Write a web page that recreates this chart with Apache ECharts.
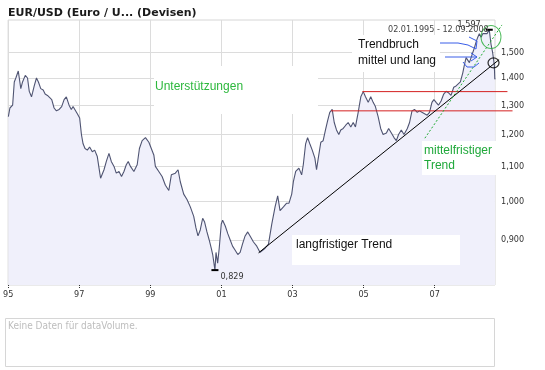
<!DOCTYPE html>
<html><head><meta charset="utf-8">
<script src="https://cdn.jsdelivr.net/npm/echarts@6/dist/echarts.min.js"></script>
<style>html,body{margin:0;padding:0;background:#fff}#c{width:545px;height:370px}</style>
</head><body><div id="c"></div>
<script>
// ---- data ----
const dates = [
'1995-01-03','1995-01-19','1995-02-16','1995-03-05','1995-03-21','1995-04-15','1995-04-25','1995-05-11','1995-05-29','1995-06-26',
'1995-07-19','1995-08-06','1995-08-29','1995-09-09','1995-09-26','1995-10-19','1995-11-08','1995-12-02','1995-12-27','1996-01-16',
'1996-02-09','1996-02-26','1996-03-24','1996-04-17','1996-05-11','1996-06-08','1996-07-04','1996-07-29','1996-08-21','1996-09-18',
'1996-10-11','1996-10-29','1996-11-18','1996-12-12','1997-01-05','1997-01-23','1997-02-09','1997-03-01','1997-03-25','1997-04-17',
'1997-05-15','1997-06-08','1997-07-05','1997-07-23','1997-08-08','1997-09-12','1997-10-06','1997-11-02','1997-11-26','1997-12-24',
'1998-01-16','1998-02-13','1998-03-11','1998-04-05','1998-04-29','1998-05-19','1998-06-11','1998-07-16','1998-08-19','1998-09-11',
'1998-10-09','1998-11-12','1998-12-17','1999-02-06','1999-02-22','1999-03-29','1999-05-02','1999-06-05','1999-07-10','1999-08-05',
'1999-09-15','1999-10-13','1999-11-05','1999-12-10','2000-01-13','2000-02-16','2000-03-22','2000-04-14','2000-05-05','2000-05-28',
'2000-06-22','2000-07-12','2000-08-05','2000-08-28','2000-09-18','2000-10-03','2000-10-26','2000-11-06','2000-11-23','2000-12-09',
'2000-12-30','2001-01-13','2001-02-09','2001-03-08','2001-04-01','2001-04-25','2001-05-22','2001-06-18','2001-07-12','2001-08-05',
'2001-09-01','2001-09-28','2001-10-22','2001-11-26','2001-12-30','2002-02-02','2002-03-25','2002-04-29','2002-06-02','2002-07-06',
'2002-08-02','2002-08-26','2002-09-30','2002-11-02','2002-11-26','2002-12-24','2003-01-10','2003-02-03','2003-03-08','2003-04-05',
'2003-04-22','2003-05-16','2003-06-05','2003-06-28','2003-07-23','2003-08-19','2003-09-05','2003-09-23','2003-10-19','2003-11-12',
'2003-12-06','2003-12-27','2004-01-19','2004-02-13','2004-03-05','2004-03-28','2004-04-21','2004-05-11','2004-06-05','2004-06-29',
'2004-07-26','2004-08-22','2004-09-16','2004-10-09','2004-11-06','2004-12-03','2004-12-28','2005-01-20','2005-02-17','2005-03-15',
'2005-04-09','2005-05-02','2005-05-30','2005-06-25','2005-07-20','2005-08-23','2005-09-15','2005-10-13','2005-11-09','2005-12-03',
'2005-12-26','2006-01-23','2006-02-20','2006-03-26','2006-04-18','2006-05-13','2006-06-08','2006-07-06','2006-07-29','2006-08-23',
'2006-09-19','2006-10-16','2006-11-09','2006-12-04','2006-12-24','2007-01-16','2007-02-09','2007-03-08','2007-04-04','2007-04-28',
'2007-05-22','2007-06-18','2007-07-16','2007-08-09','2007-08-26','2007-09-22','2007-10-17','2007-11-02','2007-11-20','2007-12-07',
'2007-12-24','2008-01-10','2008-01-27','2008-02-13','2008-03-02','2008-03-19','2008-04-04','2008-04-22','2008-05-09','2008-05-25',
'2008-06-22','2008-07-15','2008-08-02','2008-08-19','2008-09-05','2008-09-10','2008-09-12'
];
const prices = [
1.260,1.290,1.300,1.385,1.400,1.427,1.420,1.360,1.385,1.410,
1.400,1.350,1.330,1.345,1.370,1.400,1.385,1.360,1.355,1.340,
1.335,1.330,1.320,1.290,1.280,1.285,1.295,1.320,1.330,1.300,
1.285,1.295,1.300,1.270,1.255,1.200,1.170,1.155,1.150,1.160,
1.145,1.150,1.130,1.095,1.065,1.090,1.115,1.140,1.115,1.100,
1.080,1.085,1.070,1.085,1.105,1.115,1.100,1.085,1.105,1.155,
1.180,1.190,1.175,1.135,1.100,1.085,1.070,1.045,1.030,1.075,
1.080,1.090,1.055,1.020,1.005,0.985,0.960,0.930,0.910,0.925,
0.955,0.945,0.920,0.900,0.880,0.865,0.829,0.870,0.845,0.880,
0.940,0.950,0.935,0.915,0.900,0.885,0.875,0.865,0.870,0.890,
0.910,0.920,0.910,0.895,0.885,0.870,0.880,0.890,0.940,0.985,
1.015,0.975,0.985,0.995,0.995,1.020,1.055,1.085,1.095,1.075,
1.105,1.170,1.190,1.170,1.150,1.125,1.090,1.125,1.175,1.180,
1.215,1.245,1.275,1.285,1.240,1.215,1.200,1.215,1.220,1.230,
1.240,1.225,1.240,1.225,1.275,1.330,1.349,1.330,1.310,1.330,
1.310,1.295,1.260,1.220,1.200,1.205,1.220,1.205,1.190,1.180,
1.200,1.215,1.200,1.220,1.240,1.280,1.285,1.275,1.280,1.275,
1.270,1.265,1.275,1.310,1.320,1.310,1.300,1.315,1.340,1.350,
1.345,1.335,1.365,1.370,1.365,1.385,1.420,1.450,1.480,1.470,
1.460,1.480,1.500,1.520,1.545,1.565,1.580,1.565,1.580,1.585,
1.580,1.597,1.535,1.500,1.450,1.395,1.400
];
const yTicks = [0.9, 1.0, 1.1, 1.2, 1.3, 1.4, 1.5];
const xTickYears = [1995, 1997, 1999, 2001, 2003, 2005, 2007];
const rangeStart = '1995-01-01', rangeEnd = '2008-09-12';
const yMin = 0.796, yMax = 1.64;
// hand-drawn annotations (date, price); they run past the right plot edge
const support1 = [['2004-12-28', 1.349], ['2009-01-17', 1.349]];
const support2 = [['2004-02-13', 1.280], ['2009-03-10', 1.280]];
const longTrend = [['2002-02-02', 0.869], ['2008-10-24', 1.472]];
const midTrend = [['2006-09-27', 1.188], ['2008-11-22', 1.618]];
const breakPoint = [['2008-08-28', 1.459]];
const topCircle = [['2008-08-02', 1.566]];

// ---- helpers ----
const T0 = Date.parse(rangeStart);
const yrs = d => (Date.parse(d) - T0) / (365.2425 * 864e5);
const pts = arr => arr.map(p => [yrs(p[0]), p[1]]);
const fmt = v => v.toFixed(3).replace('.', ',');
const xTicks = xTickYears.map(y => y - 1995);
const lineData = dates.map((d, i) => [yrs(d), prices[i]]);
const smallFont = "'DejaVu Sans Condensed','DejaVu Sans',sans-serif";
const annFont = "'Liberation Sans',Arial,sans-serif";

// layout: main plot and a wider overlay plot with the same scale for the annotations
const W = 545, gLeft = 5, gRight = 50, aRight = 25;
const xMax = yrs(rangeEnd);
const xMaxAnn = xMax * (W - gLeft - aRight) / (W - gLeft - gRight);

const chart = echarts.init(document.getElementById('c'), null, {renderer: 'canvas'});
chart.setOption({
  animation: false,
  backgroundColor: '#fff',
  title: {
    text: 'EUR/USD (Euro / U... (Devisen)', left: 3, top: 3,
    textStyle: {fontFamily: 'DejaVu Sans', fontSize: 11, fontWeight: 'bold', color: '#1a1a1a'}
  },
  grid: [
    {left: gLeft, right: gRight, top: 20, bottom: 85, show: true, borderColor: '#d6d6d6', borderWidth: 1, backgroundColor: '#fff'},
    {left: gLeft, right: aRight, top: 20, bottom: 85, show: false}
  ],
  xAxis: [{
    type: 'value', gridIndex: 0, min: 0, max: xMax,
    axisLine: {show: false},
    axisTick: {show: true, customValues: xTicks, length: 4, lineStyle: {color: '#333', type: 'dotted'}},
    axisLabel: {customValues: xTicks, margin: 5, fontFamily: smallFont, fontSize: 9, color: '#333',
      formatter: v => String((1995 + Math.round(v)) % 100).padStart(2, '0')},
    splitLine: {show: true, lineStyle: {color: '#dcdcdc'}}
  }, {
    type: 'value', gridIndex: 1, min: 0, max: xMaxAnn, show: false, splitLine: {show: false}
  }],
  yAxis: [{
    type: 'log', gridIndex: 0, position: 'right', min: yMin, max: yMax,
    axisLine: {show: false},
    axisTick: {show: false, customValues: yTicks},
    axisLabel: {customValues: yTicks, margin: 6, fontFamily: smallFont, fontSize: 9, color: '#333', formatter: fmt},
    splitLine: {show: true, lineStyle: {color: '#dcdcdc'}}
  }, {
    type: 'log', gridIndex: 1, min: yMin, max: yMax, show: false, splitLine: {show: false}
  }],
  series: [
    {
      name: 'EUR/USD', type: 'line', data: lineData, symbol: 'none', z: 3,
      lineStyle: {color: '#4f5472', width: 1.1},
      areaStyle: {color: '#f0f0fb', origin: 'start', opacity: 1},
      markPoint: {
        symbol: 'rect', symbolSize: [7, 2], itemStyle: {color: '#000'},
        data: [
          {type: 'max', label: {show: true, position: [-5, 0], align: 'right', verticalAlign: 'bottom',
            formatter: p => fmt(p.value), fontFamily: smallFont, fontSize: 9, color: '#333'}},
          {type: 'min', label: {show: true, position: [9, 3], align: 'left', verticalAlign: 'top',
            formatter: p => fmt(p.value), fontFamily: smallFont, fontSize: 9, color: '#333'}}
        ]
      }
    },
    {name: 'Unterstützung 1', type: 'line', xAxisIndex: 1, yAxisIndex: 1, data: pts(support1), symbol: 'none', z: 4,
      lineStyle: {color: '#d42020', width: 1}},
    {name: 'Unterstützung 2', type: 'line', xAxisIndex: 1, yAxisIndex: 1, data: pts(support2), symbol: 'none', z: 4,
      lineStyle: {color: '#d42020', width: 1}},
    {name: 'langfristiger Trend', type: 'line', xAxisIndex: 1, yAxisIndex: 1, data: pts(longTrend), symbol: 'none', z: 4,
      lineStyle: {color: '#000', width: 1}},
    {name: 'mittelfristiger Trend', type: 'line', xAxisIndex: 1, yAxisIndex: 1, data: pts(midTrend), symbol: 'none', z: 4,
      lineStyle: {color: '#22aa33', width: 1, type: [2, 2]}},
    {name: 'Trendbruch', type: 'scatter', xAxisIndex: 1, yAxisIndex: 1, data: pts(breakPoint), symbol: 'circle', symbolSize: [11, 10], clip: false, z: 5,
      itemStyle: {color: 'rgba(0,0,0,0)', borderColor: '#000', borderWidth: 1.2}},
    {name: 'Hoch', type: 'scatter', xAxisIndex: 1, yAxisIndex: 1, data: pts(topCircle), symbol: 'circle', symbolSize: [20, 23], clip: false, z: 5,
      itemStyle: {color: 'rgba(0,0,0,0)', borderColor: '#22aa33', borderWidth: 1}}
  ],
  graphic: [
    // white annotation boxes
    {type: 'rect', z: 20, shape: {x: 154, y: 66, width: 164, height: 48}, style: {fill: '#fff'}},
    {type: 'rect', z: 20, shape: {x: 352, y: 35, width: 88, height: 37}, style: {fill: '#fff'}},
    {type: 'rect', z: 20, shape: {x: 292, y: 235, width: 168, height: 30}, style: {fill: '#fff'}},
    {type: 'rect', z: 20, shape: {x: 422, y: 141, width: 75, height: 34}, style: {fill: '#fff'}},
    // annotation texts
    {type: 'text', z: 21, x: 155, y: 87, style: {text: 'Unterstützungen', fill: '#2db83d', font: '12px ' + annFont, textVerticalAlign: 'middle'}},
    {type: 'text', z: 21, x: 358, y: 45, style: {text: 'Trendbruch', fill: '#111', font: '12px ' + annFont, textVerticalAlign: 'middle'}},
    {type: 'text', z: 21, x: 358, y: 61, style: {text: 'mittel und lang', fill: '#111', font: '12px ' + annFont, textVerticalAlign: 'middle'}},
    {type: 'text', z: 21, x: 296, y: 245, style: {text: 'langfristiger Trend', fill: '#111', font: '12px ' + annFont, textVerticalAlign: 'middle'}},
    {type: 'text', z: 21, x: 424, y: 151, style: {text: 'mittelfristiger', fill: '#1fa83a', font: '12px ' + annFont, textVerticalAlign: 'middle'}},
    {type: 'text', z: 21, x: 424, y: 166, style: {text: 'Trend', fill: '#1fa83a', font: '12px ' + annFont, textVerticalAlign: 'middle'}},
    // date range
    {type: 'text', z: 21, x: 388, y: 30, style: {text: '02.01.1995 - 12.09.2008', fill: '#444', font: '9px ' + smallFont, textVerticalAlign: 'middle'}},
    // blue hand-drawn arrows
    {type: 'polyline', z: 22, shape: {points: [[440,43],[458,43],[468,45],[476,49]]}, style: {stroke: '#3a5ee8', lineWidth: 1, fill: null}},
    {type: 'polyline', z: 22, shape: {points: [[469,37],[477,41],[476,49]]}, style: {stroke: '#3a5ee8', lineWidth: 1, fill: null}},
    {type: 'polyline', z: 22, shape: {points: [[445,57],[477,57]]}, style: {stroke: '#3a5ee8', lineWidth: 1, fill: null}},
    {type: 'polyline', z: 22, shape: {points: [[471,53],[477,57],[471,61]]}, style: {stroke: '#3a5ee8', lineWidth: 1, fill: null}},
    {type: 'polyline', z: 22, shape: {points: [[463,62],[467,67],[474,67],[479,63]]}, style: {stroke: '#3a5ee8', lineWidth: 1, fill: null}},
    // volume panel
    {type: 'rect', z: 1, shape: {x: 5.5, y: 318.5, width: 489, height: 48}, style: {fill: '#fff', stroke: '#d6d6d6', lineWidth: 1}},
    {type: 'text', z: 2, x: 8, y: 326, style: {text: 'Keine Daten für dataVolume.', fill: '#bdbdbd', font: '10px ' + smallFont, textVerticalAlign: 'middle'}}
  ]
});
</script></body></html>
